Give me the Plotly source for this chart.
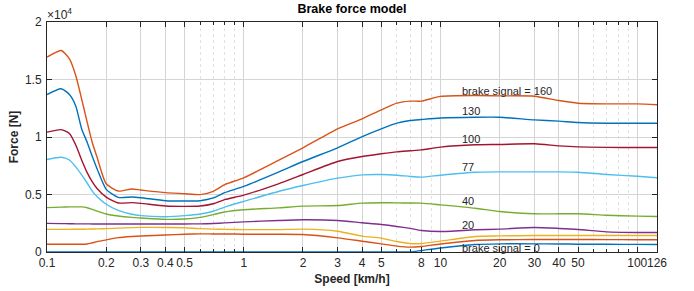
import numpy as np
import plotly.graph_objects as go

# ---------------- data ----------------
speed = [0.1, 0.118, 0.13, 0.14, 0.15, 0.16, 0.17, 0.18, 0.2, 0.23, 0.27, 0.3, 0.4, 0.5, 0.6, 0.7, 0.8, 1,
         1.5, 2, 3, 4, 5, 6, 7, 8, 10, 15, 20, 30, 40, 50, 70, 100, 126]

force_160 = [16940, 17520, 16800, 15350, 13300, 11300, 9500, 8200, 5930,
             5300, 5480, 5390, 5160, 5070, 4990, 5280, 5860, 6450,
             7960, 9060, 10710, 11580, 12360, 12940, 13120, 13120, 13530, 13610, 13580, 13550, 13170, 12940, 12880, 12880, 12800]
force_130 = [13690, 14190, 13700, 12700, 10700, 9550, 8300, 7200, 5450,
             4750, 4780, 4720, 4460, 4430, 4460, 4700, 5160, 5700,
             6940, 7870, 9060, 10040, 10710, 11200, 11430, 11520, 11650, 11720, 11720, 11490, 11380, 11260, 11200, 11200, 11200]
force_100 = [10420, 10640, 10300, 9300, 8000, 6900, 6100, 5500, 4770,
             4260, 4290, 4230, 4000, 3970, 4000, 4200, 4550, 4950,
             5930, 6740, 7870, 8300, 8540, 8710, 8800, 8880, 9120, 9320, 9350, 9410, 9230, 9140, 9100, 9090, 9090]
force_77 = [8040, 8240, 8000, 7400, 6700, 6000, 5300, 4800, 4150,
            3620, 3280, 3160, 3070, 3160, 3300, 3540, 3910, 4400,
            5260, 5780, 6420, 6710, 6740, 6680, 6570, 6510, 6680, 6940, 6970, 6970, 6970, 6940, 6740, 6590, 6450]
force_40 = [3860, 3900, 3920, 3920, 3920, 3850, 3700, 3550, 3300,
            3130, 3010, 2960, 2840, 2870, 3010, 3250, 3480, 3670,
            3840, 3990, 4040, 4250, 4280, 4270, 4260, 4250, 4100, 3810, 3520, 3320, 3320, 3320, 3200, 3120, 3090]
force_20 = [2490, 2470, 2460, 2450, 2450, 2445, 2440, 2440, 2440,
            2440, 2440, 2440, 2440, 2440, 2450, 2480, 2530, 2620,
            2740, 2800, 2740, 2540, 2390, 2220, 2050, 1870, 1780, 1930, 1990, 2130, 2050, 1960, 1750, 1700, 1700]
force_10 = [1970, 1970, 1970, 1975, 1980, 1990, 2000, 2010, 2030,
            2080, 2120, 2140, 2130, 2110, 2030, 1990, 1970, 1950,
            1950, 1990, 1810, 1380, 1200, 910, 740, 740, 950, 1350, 1400, 1430, 1430, 1430, 1430, 1430, 1430]
force_5 = [670, 670, 670, 670, 670, 700, 800, 900, 1050,
           1250, 1350, 1390, 1480, 1550, 1580, 1570, 1570, 1550,
           1540, 1520, 1230, 940, 710, 510, 420, 480, 700, 1000, 1060, 1090, 1090, 1090, 1080, 1070, 1060]
force_0 = [0, 0, 0, 0, 0, 0, 0, 0, 0,
           0, 0, 0, 0, 0, 0, 0, 0, 0,
           0, 0, 0, 0, 0, 0, 0, 130, 350, 650, 710, 710, 700, 680, 670, 660, 650]

series = [force_0, force_5, force_10, force_20, force_40, force_77, force_100, force_130, force_160]
series_names = ["0", "5", "10", "20", "40", "77", "100", "130", "160"]
colors = ["#0072BD", "#D95319", "#EDB120", "#7E2F8E", "#77AC30", "#4DBEEE", "#A2142F", "#0072BD", "#D95319"]

label_texts = ["brake signal = 160", "130", "100", "77", "40", "20", "brake signal = 0"]
label_x = 13
label_y = [14040, 12220, 9860, 7400, 4410, 2390, 370]

x_ticks = [0.1, 0.2, 0.3, 0.4, 0.5, 1, 2, 3, 4, 5, 8, 10, 20, 30, 40, 50, 100, 126]
x_ticktext = ["0.1", "0.2", "0.3", "0.4", "0.5", "1", "2", "3", "4", "5", "8", "10", "20", "30", "40", "50", "100", "126"]
x_minor = [0.6, 0.7, 0.8, 0.9, 6, 7, 9, 60, 70, 80, 90]
y_ticks = [0, 5000, 10000, 15000, 20000]
y_ticktext = ["0", "0.5", "1", "1.5", "2"]

FONT = "Liberation Sans, Arial, Helvetica, sans-serif"

fig = go.Figure()
for vals, name, col in zip(series, series_names, colors):
    fig.add_trace(go.Scatter(x=speed, y=vals, mode="lines", name=name,
                             line=dict(color=col, width=1.4, shape="spline", smoothing=0.6),
                             showlegend=False))

for txt, yy in zip(label_texts, label_y):
    fig.add_annotation(x=np.log10(label_x), y=yy, text=txt, showarrow=False,
                       xanchor="left", yanchor="middle", xshift=-3,
                       font=dict(family=FONT, size=11, color="#262626"))

fig.add_annotation(xref="paper", yref="paper", x=0, y=1, text="×10<sup>4</sup>",
                   showarrow=False, xanchor="left", yanchor="bottom", yshift=-2, xshift=-2,
                   font=dict(family=FONT, size=12, color="#262626"))

axis_common = dict(showline=True, linecolor="#262626", linewidth=1, mirror="ticks",
                   ticks="inside", ticklen=5, tickcolor="#262626",
                   showgrid=True, gridcolor="#d4d4d4", gridwidth=1, automargin=False,
                   zeroline=False, tickfont=dict(family=FONT, size=12, color="#262626"))

fig.update_xaxes(type="log", range=[np.log10(0.1), np.log10(126)], tickangle=0,
                 tickmode="array", tickvals=x_ticks, ticktext=x_ticktext,
                 minor=dict(tickmode="array", tickvals=x_minor, ticks="inside", ticklen=3,
                            tickcolor="#262626", showgrid=True, gridcolor="#e2e2e2",
                            griddash="dot", gridwidth=1),
                 title=dict(text="<b>Speed [km/h]</b>", font=dict(family=FONT, size=12, color="#262626"),
                            standoff=5),
                 **axis_common)
fig.update_yaxes(range=[0, 20000], tickmode="array", tickvals=y_ticks, ticktext=y_ticktext,
                 ticklabelstandoff=2,
                 title=dict(text="<b>Force [N]</b>", font=dict(family=FONT, size=12, color="#262626"),
                            standoff=3),
                 **axis_common)

fig.update_layout(
    width=694, height=291,
    margin=dict(l=47, r=37, t=22, b=39, pad=0),
    paper_bgcolor="white", plot_bgcolor="white",
    title=dict(text="<b>Brake force model</b>", x=0.5, xref="paper", xanchor="center",
               y=1, yref="container", yanchor="top", pad=dict(t=4),
               font=dict(family=FONT, size=12.5, color="#000000")),
)

fig.write_html("out.html", config={"displayModeBar": False},
               post_script="document.body.style.margin='0';document.body.style.padding='0';")
